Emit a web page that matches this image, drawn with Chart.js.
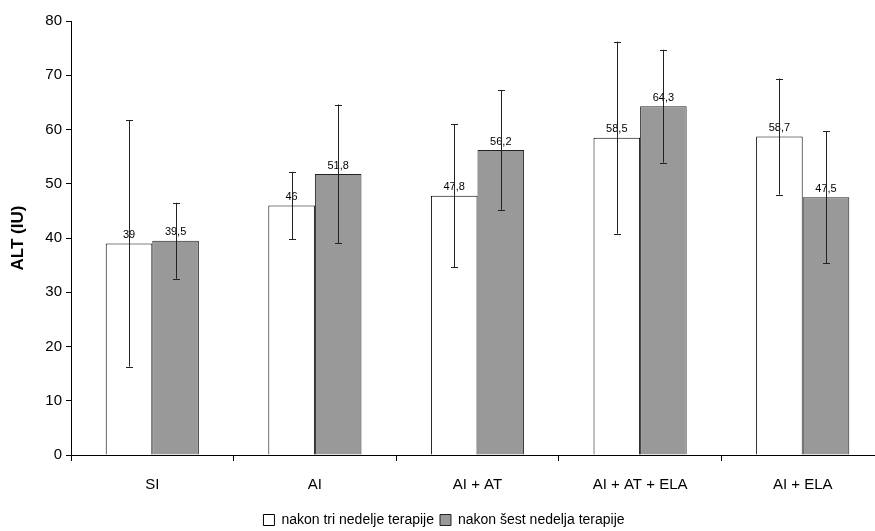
<!DOCTYPE html>
<html>
<head>
<meta charset="utf-8">
<script src="https://cdn.jsdelivr.net/npm/chart.js@4.4.0/dist/chart.umd.min.js"></script>
<style>
  html, body { margin: 0; padding: 0; background: #fff; overflow: hidden; }
  #wrap { width: 875px; height: 531px; overflow: hidden; position: relative; }
  #box { width: 890px; height: 531px; position: absolute; left: 0; top: 0; }
</style>
</head>
<body>
<div id="wrap"><div id="box"><canvas id="chart"></canvas></div></div>
<script>
// Chart data
const categories = ['SI', 'AI', 'AI + AT', 'AI + AT + ELA', 'AI + ELA'];
const threeWeeks = [39, 46, 47.8, 58.5, 58.7];
const threeWeeksErr = [22.7, 6.2, 13.2, 17.7, 10.7];
const sixWeeks = [39.5, 51.8, 56.2, 64.3, 47.5];
const sixWeeksErr = [7, 12.8, 11, 10.4, 12.2];
const yTicks = [0, 10, 20, 30, 40, 50, 60, 70, 80];

const errors = [threeWeeksErr, sixWeeksErr];

// draws error bars and value labels on top of the bars
const errorBarPlugin = {
    id: 'errorBars',
    afterDatasetsDraw(chart) {
        const ctx = chart.ctx;
        const y = chart.scales.y;
        chart.data.datasets.forEach(function(ds, i) {
            const meta = chart.getDatasetMeta(i);
            meta.data.forEach(function(bar, j) {
                const v = ds.data[j];
                const e = errors[i][j];
                const x = Math.round(bar.x) + 0.5;
                const top = y.getPixelForValue(v + e);
                const bottom = y.getPixelForValue(v - e);

                // value label
                ctx.save();
                ctx.fillStyle = '#000';
                ctx.font = '11px Arial, "Liberation Sans"';
                ctx.textAlign = 'center';
                ctx.textBaseline = 'bottom';
                ctx.fillText(String(v).replace('.', ','), bar.x, bar.y - 3);
                ctx.restore();

                ctx.save();
                ctx.strokeStyle = '#222';
                ctx.lineWidth = 1;
                ctx.beginPath();
                ctx.moveTo(x, top);
                ctx.lineTo(x, bottom);
                ctx.moveTo(x - 3.5, Math.round(top) + 0.5);
                ctx.lineTo(x + 3.5, Math.round(top) + 0.5);
                ctx.moveTo(x - 3.5, Math.round(bottom) + 0.5);
                ctx.lineTo(x + 3.5, Math.round(bottom) + 0.5);
                ctx.stroke();
                ctx.restore();
            });
        });
    }
};

const ctx = document.getElementById('chart').getContext('2d');

new Chart(ctx, {
    type: 'bar',
    data: {
        labels: categories,
        datasets: [
            {
                label: 'nakon tri nedelje terapije',
                data: threeWeeks,
                backgroundColor: '#ffffff',
                borderColor: '#000000',
                borderWidth: 1,
                barPercentage: 1,
                categoryPercentage: 0.573
            },
            {
                label: 'nakon šest nedelja terapije',
                data: sixWeeks,
                backgroundColor: '#999999',
                borderColor: '#222222',
                borderWidth: 1,
                barPercentage: 1,
                categoryPercentage: 0.573
            }
        ]
    },
    options: {
        responsive: true,
        maintainAspectRatio: false,
        animation: false,
        layout: {
            padding: { left: 4, right: 6, top: 21, bottom: -6 }
        },
        plugins: {
            legend: {
                position: 'bottom',
                labels: {
                    color: '#000',
                    font: { family: 'Arial, "Liberation Sans"', size: 14 },
                    boxWidth: 11,
                    boxHeight: 11,
                    padding: 6
                }
            },
            tooltip: { enabled: false }
        },
        scales: {
            x: {
                grid: {
                    offset: true,
                    drawOnChartArea: false,
                    drawTicks: true,
                    tickLength: 6,
                    color: '#000'
                },
                border: { color: '#000' },
                ticks: {
                    color: '#000',
                    font: { family: 'Arial, "Liberation Sans"', size: 15 },
                    padding: 15,
                    maxRotation: 0
                },
                afterFit: function(scale) { scale.height = 52; }
            },
            y: {
                min: 0,
                max: 80,
                afterBuildTicks: function(scale) {
                    scale.ticks = yTicks.map(function(v) { return { value: v }; });
                },
                grid: {
                    drawOnChartArea: false,
                    drawTicks: true,
                    tickLength: 5,
                    color: '#000'
                },
                border: { color: '#000' },
                ticks: {
                    color: '#000',
                    font: { family: 'Arial, "Liberation Sans"', size: 15 },
                    padding: 4
                },
                title: {
                    display: true,
                    text: 'ALT (IU)',
                    color: '#000',
                    font: { family: 'Arial, "Liberation Sans"', size: 17, weight: 'bold' },
                    padding: { top: 4, bottom: 6 }
                },
                afterFit: function(scale) { scale.width = 67; }
            }
        }
    },
    plugins: [errorBarPlugin]
});
</script>
</body>
</html>
